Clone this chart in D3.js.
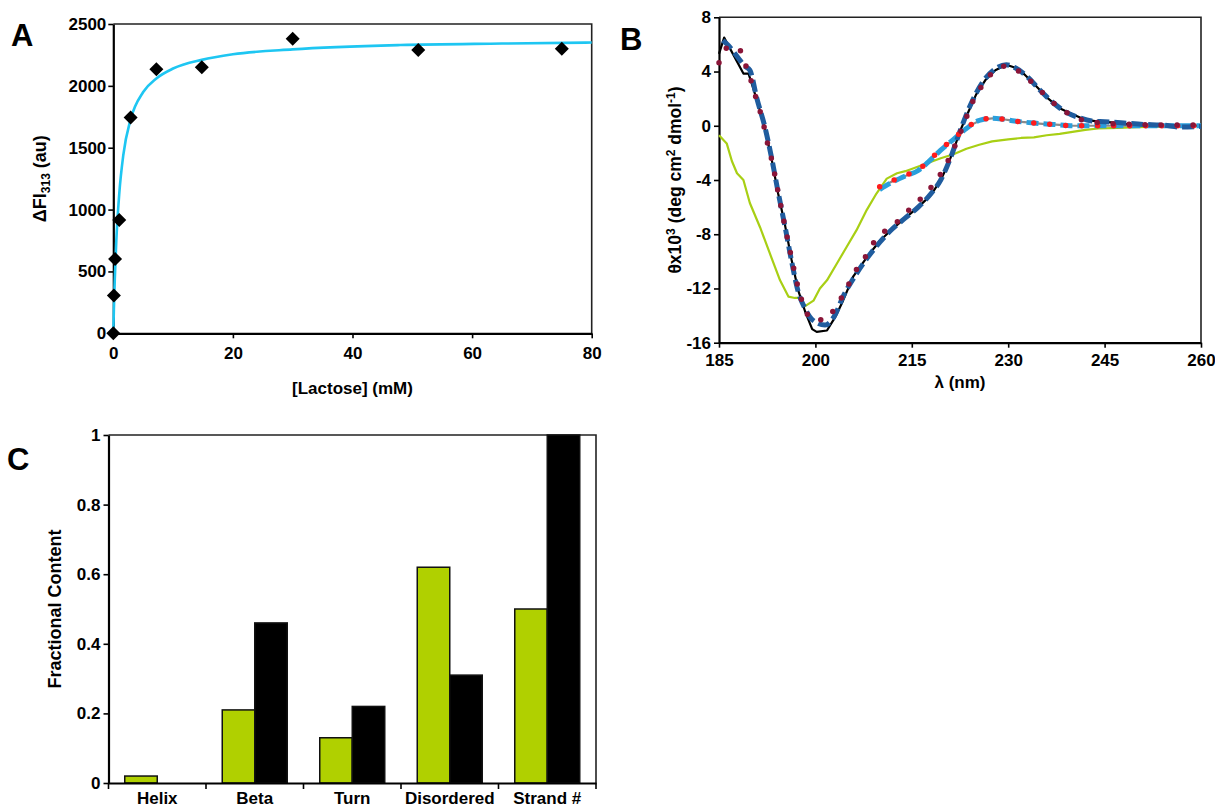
<!DOCTYPE html>
<html>
<head>
<meta charset="utf-8">
<script src="https://cdn.jsdelivr.net/npm/d3@7"></script>
<style>
  body { margin: 0; background: #fff; }
  svg { font-family: "Liberation Sans", Arial, sans-serif; font-weight: bold; }
</style>
</head>
<body>
<svg id="fig" width="1215" height="808"></svg>
<script>
// ---- panel A : lactose titration ----
const lactose = [0, 0.1, 0.3, 1, 2.9, 7.2, 14.8, 30, 51, 75];
const deltaFI = [0, 305, 600, 915, 1745, 2135, 2150, 2380, 2290, 2300];
// fitted curve
const fitLactose = [0, 0.1, 0.25, 0.5, 1, 1.67, 2.9, 5, 7.2, 10, 14.8, 20, 30, 48, 65, 80];
const fitFI = [0, 200, 440, 745, 1130, 1440, 1730, 1950, 2060, 2140, 2210, 2255, 2295, 2330, 2342, 2350];
const aTicksX = [0, 20, 40, 60, 80];
const aTicksY = [0, 500, 1000, 1500, 2000, 2500];

// ---- panel B : CD spectra ----
const bTicksX = [185, 200, 215, 230, 245, 260];
const bTicksY = [-16, -12, -8, -4, 0, 4, 8];

const blackNm = [185, 185.8, 188.8, 189.6, 190.9, 192.2, 193.2, 194.2, 195.3, 196.3, 197.3, 198.4, 199.5, 200.2, 201.8, 203.1, 204.3, 205.9, 208, 210, 212, 214, 216, 218, 219.5, 220.5, 221.5, 222.5, 223.5, 225, 226.5, 228, 229.7, 231, 232.5, 234, 236, 238, 240, 242, 244, 246, 248, 250, 255, 260];
const blackVal = [5.3, 6.5, 3.85, 3.85, 1.9, -0.3, -2.5, -5.0, -7.4, -9.9, -12.1, -13.7, -15.0, -15.2, -15.1, -14.1, -12.9, -11.1, -9.7, -8.5, -7.6, -6.8, -6.0, -5.1, -4.0, -3.0, -1.8, -0.4, 0.7, 2.3, 3.4, 4.1, 4.5, 4.3, 3.8, 3.1, 2.1, 1.3, 0.85, 0.45, 0.3, 0.25, 0.15, 0.1, 0.05, 0.0];

const blueNm = [185.6, 186.5, 188, 189, 189.8, 190.9, 192.2, 193.2, 194.2, 195.3, 196.3, 197.3, 198.4, 199.5, 201.5, 203, 204.3, 206, 208, 210, 212, 214, 216, 218, 219.5, 221, 222.5, 224, 226, 228, 229.7, 231, 233, 235, 237, 239, 241, 243, 245, 248, 251, 254, 257, 260];
const blueVal = [6.3, 5.9, 5.0, 4.4, 4.1, 2.0, -0.2, -2.4, -4.9, -7.5, -10.0, -12.2, -13.5, -14.3, -14.7, -14.0, -12.6, -11.2, -9.8, -8.6, -7.6, -6.8, -6.0, -5.0, -4.0, -2.4, -0.4, 1.4, 3.2, 4.2, 4.5, 4.3, 3.6, 2.6, 1.7, 1.0, 0.6, 0.35, 0.3, 0.2, 0.1, 0.05, -0.1, -0.05];

const maroonNm = [185, 186.6, 188.3, 189.3, 190.2, 191, 191.8, 192.4, 193.2, 194.2, 195.3, 196.3, 197.3, 198.1, 199.7, 201.6, 203.2, 204.6, 206, 207.6, 209.1, 211, 213.2, 215, 217, 218.7, 220.3, 221.6, 223, 224.5, 226, 228, 229.7, 231, 233, 235, 237, 239, 241, 243, 246, 250, 255, 260];
const maroonVal = [4.65, 5.85, 5.55, 4.25, 3.0, 1.65, 0.4, -1.0, -2.5, -4.9, -7.5, -9.8, -11.9, -13.2, -14.3, -14.3, -13.3, -12.25, -10.9, -9.8, -8.6, -7.7, -6.9, -6.0, -5.1, -4.1, -2.9, -1.6, 0.0, 1.8, 3.0, 4.1, 4.4, 4.2, 3.5, 2.6, 1.7, 1.0, 0.5, 0.3, 0.15, 0.1, 0.05, 0.05];

const grayNm = [210, 212, 214, 216, 217.5, 219.5, 221.5, 223.5, 225.5, 227.5, 229, 231, 234, 237, 240, 245, 250, 255, 260];
const grayVal = [-4.6, -4.1, -3.7, -3.3, -2.7, -1.8, -1.0, -0.2, 0.35, 0.55, 0.5, 0.35, 0.2, 0.1, 0.0, 0.0, 0.0, 0.0, 0.0];
const lightBlueVal = [-4.7, -4.15, -3.7, -3.3, -2.7, -1.8, -1.0, -0.2, 0.4, 0.55, 0.5, 0.35, 0.2, 0.1, 0.0, 0.0, 0.0, 0.0, 0.0];
const redVal = [-4.5, -4.05, -3.65, -3.25, -2.65, -1.75, -0.95, -0.15, 0.4, 0.55, 0.5, 0.35, 0.2, 0.1, 0.0, 0.0, 0.0, 0.0, 0.0];

const greenNm = [185, 186.2, 187, 187.8, 188.8, 189.8, 191.4, 192.9, 194.5, 195.8, 196.8, 197.5, 198.4, 199.7, 200.7, 201.8, 203.3, 204.9, 206.4, 208, 209.5, 211.1, 212.7, 214, 215.5, 217.5, 219.5, 221.5, 223.5, 225.5, 227.5, 230, 232, 234, 236, 238, 240, 242, 244, 247, 250, 255, 260];
const greenVal = [-0.7, -1.3, -2.6, -3.5, -4.0, -5.7, -7.5, -9.4, -11.4, -12.6, -12.7, -12.7, -13.3, -12.9, -12.0, -11.4, -10.2, -8.9, -7.7, -6.2, -5.0, -3.9, -3.5, -3.35, -3.1, -2.75, -2.4, -2.1, -1.7, -1.4, -1.15, -1.0, -0.9, -0.85, -0.7, -0.6, -0.45, -0.3, -0.2, -0.15, -0.1, -0.05, 0];

// ---- panel C : secondary structure ----
const categories = ["Helix", "Beta", "Turn", "Disordered", "Strand #"];
const greenBars = [0.02, 0.21, 0.13, 0.62, 0.50];
const blackBars = [0, 0.46, 0.22, 0.31, 1.0];
const cTicksY = [0, 0.2, 0.4, 0.6, 0.8, 1];

const font = '"Liberation Sans", Arial, sans-serif';
const svg = d3.select("#fig");

function styleAxis(g) {
    g.attr("font-family", font).attr("font-size", 17).attr("font-weight", "bold");
    g.select(".domain").attr("stroke-width", 2.2).attr("stroke", "#000");
    g.selectAll(".tick line").attr("stroke-width", 1.6);
    g.selectAll(".tick text").attr("fill", "#000");
}

function frame(x0, x1, y0, y1) {
    svg.append("path")
        .attr("d", `M${x0},${y1}L${x1},${y1}L${x1},${y0}`)
        .attr("fill", "none")
        .attr("stroke", "#222")
        .attr("stroke-width", 1.6);
}

function panelLetter(t, x, y) {
    svg.append("text").attr("x", x).attr("y", y)
        .attr("font-size", 31).attr("font-weight", "bold")
        .text(t);
}

// ===== A =====
const ax = d3.scaleLinear().domain([0, 80]).range([113.3, 591.7]);
const ay = d3.scaleLinear().domain([0, 2500]).range([333.3, 24]);

frame(ax(0), ax(80), ay(0), ay(2500));

svg.append("g")
    .attr("transform", `translate(0,${ay(0)})`)
    .call(d3.axisBottom(ax).tickValues(aTicksX).tickSize(5).tickPadding(9).tickSizeOuter(0))
    .call(styleAxis);
svg.append("g")
    .attr("transform", `translate(${ax(0)},0)`)
    .call(d3.axisLeft(ay).tickValues(aTicksY).tickFormat(d3.format("d")).tickSize(5).tickPadding(2).tickSizeOuter(0))
    .call(styleAxis);

const fitLine = d3.line()
    .curve(d3.curveMonotoneX)
    .x((d, i) => ax(fitLactose[i]))
    .y(d => ay(d));
svg.append("path")
    .datum(fitFI)
    .attr("fill", "none")
    .attr("stroke", "#1ec6f2")
    .attr("stroke-width", 2.6)
    .attr("d", fitLine);

svg.append("g")
  .selectAll("path")
  .data(deltaFI)
  .join("path")
    .attr("d", d3.symbol(d3.symbolSquare, 98))
    .attr("transform", (d, i) => `translate(${ax(lactose[i])},${ay(d)}) rotate(45)`)
    .attr("fill", "#000");

svg.append("text")
    .attr("x", (ax(0) + ax(80)) / 2).attr("y", 394)
    .attr("text-anchor", "middle").attr("font-size", 17)
    .text("[Lactose] (mM)");

const aYt = svg.append("text")
    .attr("transform", `translate(46,${(ay(0) + ay(2500)) / 2}) rotate(-90)`)
    .attr("text-anchor", "middle").attr("font-size", 18);
aYt.append("tspan").text("ΔFI");
aYt.append("tspan").attr("font-size", 12).attr("dy", 4).text("313");
aYt.append("tspan").attr("dy", -4).text(" (au)");

panelLetter("A", 11, 46);

// ===== B =====
const bx = d3.scaleLinear().domain([185, 260]).range([719, 1201]);
const by = d3.scaleLinear().domain([-16, 8]).range([342.7, 17.3]);

frame(bx(185), bx(260), by(-16), by(8));

svg.append("g")
    .attr("transform", `translate(0,${by(-16)})`)
    .call(d3.axisBottom(bx).tickValues(bTicksX).tickSize(5).tickPadding(6).tickSizeOuter(0))
    .call(styleAxis);
svg.append("g")
    .attr("transform", `translate(${bx(185)},0)`)
    .call(d3.axisLeft(by).tickValues(bTicksY).tickFormat(d => String(d)).tickSize(5).tickPadding(3).tickSizeOuter(0))
    .call(styleAxis);

function spectrum(nm, vals, curve) {
    return d3.line()
        .curve(curve)
        .x((d, i) => bx(nm[i]))
        .y(d => by(d))(vals);
}

const traces = [
    {nm: greenNm, v: greenVal, color: "#a8cf14", w: 2.2, dash: null, cap: "butt", curve: d3.curveLinear},
    {nm: grayNm, v: grayVal, color: "#8a8a8a", w: 2.2, dash: null, cap: "butt", curve: d3.curveMonotoneX},
    {nm: blackNm, v: blackVal, color: "#000", w: 2.2, dash: null, cap: "butt", curve: d3.curveLinear},
    {nm: grayNm, v: lightBlueVal, color: "#2a9fdc", w: 5, dash: "12 5", cap: "butt", curve: d3.curveMonotoneX},
    {nm: blueNm, v: blueVal, color: "#1f5c9e", w: 5, dash: "12 5", cap: "butt", curve: d3.curveMonotoneX},
    {nm: grayNm, v: redVal, color: "#ff1c1c", w: 5.5, dash: "0 16", cap: "round", curve: d3.curveMonotoneX},
    {nm: maroonNm, v: maroonVal, color: "#8a1538", w: 5.5, dash: "0 16", cap: "round", curve: d3.curveMonotoneX}
];

svg.append("g")
  .selectAll("path")
  .data(traces)
  .join("path")
    .attr("fill", "none")
    .attr("stroke", d => d.color)
    .attr("stroke-width", d => d.w)
    .attr("stroke-dasharray", d => d.dash)
    .attr("stroke-linecap", d => d.cap)
    .attr("stroke-linejoin", "round")
    .attr("d", d => spectrum(d.nm, d.v, d.curve));

svg.append("text")
    .attr("x", (bx(185) + bx(260)) / 2).attr("y", 388)
    .attr("text-anchor", "middle").attr("font-size", 17)
    .text("λ (nm)");

const bYt = svg.append("text")
    .attr("transform", `translate(681,${(by(-16) + by(8)) / 2}) rotate(-90)`)
    .attr("text-anchor", "middle").attr("font-size", 17.5);
bYt.append("tspan").text("θx10");
bYt.append("tspan").attr("font-size", 12).attr("dy", -6).text("3");
bYt.append("tspan").attr("dy", 6).text(" (deg cm");
bYt.append("tspan").attr("font-size", 12).attr("dy", -6).text("2");
bYt.append("tspan").attr("dy", 6).text(" dmol");
bYt.append("tspan").attr("font-size", 12).attr("dy", -6).text("-1");
bYt.append("tspan").attr("dy", 6).text(")");

panelLetter("B", 620, 50);

// ===== C =====
const cx = d3.scaleBand().domain(categories).range([108.5, 596]);
const cy = d3.scaleLinear().domain([0, 1]).range([783, 435]);
const cSub = d3.scaleBand().domain([0, 1]).range([0, cx.bandwidth()]).paddingOuter(0.5);

frame(cx.range()[0], cx.range()[1], cy(0), cy(1));

const bars = categories.flatMap((c, i) => [
    {cat: c, s: 0, v: greenBars[i]},
    {cat: c, s: 1, v: blackBars[i]}
]).filter(d => d.v > 0);

svg.append("g")
  .selectAll("rect")
  .data(bars)
  .join("rect")
    .attr("x", d => cx(d.cat) + cSub(d.s))
    .attr("y", d => cy(d.v))
    .attr("width", cSub.bandwidth())
    .attr("height", d => cy(0) - cy(d.v))
    .attr("fill", d => d.s === 0 ? "#b0d000" : "#000")
    .attr("stroke", "#111")
    .attr("stroke-width", 1.5);

svg.append("g")
    .attr("transform", `translate(0,${cy(0)})`)
    .call(d3.axisBottom(cx).tickSize(0).tickPadding(9).tickSizeOuter(0))
    .call(styleAxis);

// group separators on the category axis
svg.append("g")
  .selectAll("line")
  .data(categories.map(c => cx(c)).concat([cx.range()[1]]))
  .join("line")
    .attr("x1", d => d).attr("x2", d => d)
    .attr("y1", cy(0)).attr("y2", cy(0) + 6)
    .attr("stroke", "#000").attr("stroke-width", 1.6);

svg.append("g")
    .attr("transform", `translate(${cx.range()[0]},0)`)
    .call(d3.axisLeft(cy).tickValues(cTicksY).tickFormat(d3.format("~g")).tickSize(5).tickPadding(3).tickSizeOuter(0))
    .call(styleAxis);

svg.append("text")
    .attr("transform", `translate(61,${(cy(0) + cy(1)) / 2}) rotate(-90)`)
    .attr("text-anchor", "middle").attr("font-size", 18)
    .text("Fractional Content");

panelLetter("C", 7, 470);
</script>
</body>
</html>
